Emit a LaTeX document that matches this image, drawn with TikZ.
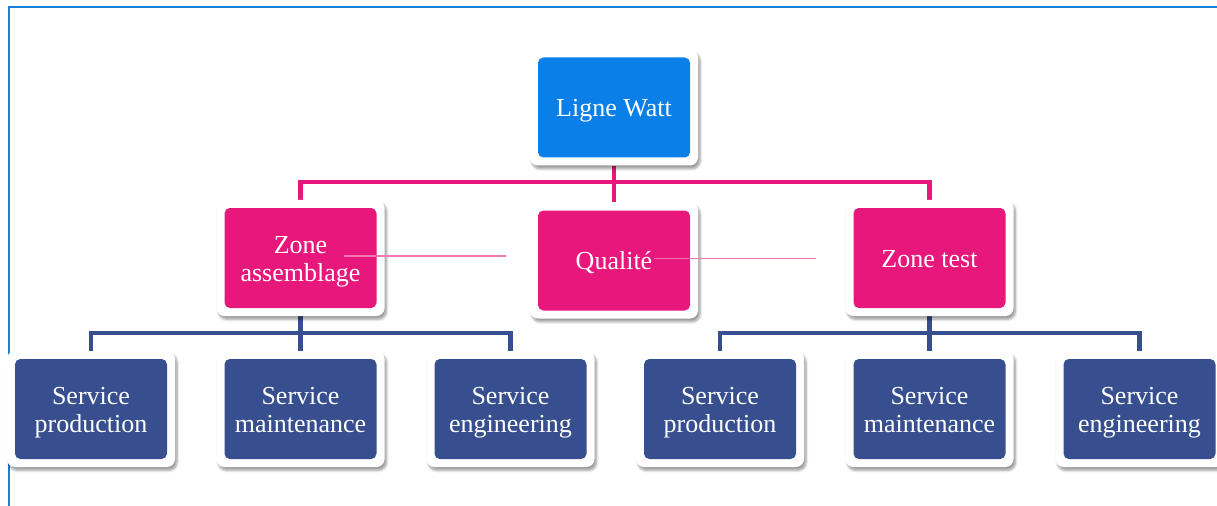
\documentclass[tikz,border=0pt]{standalone}
\usepackage{fontspec}
\setmainfont{Liberation Serif}
\usepackage{xcolor}
\usetikzlibrary{positioning,backgrounds,shadows.blur}
\definecolor{wattblue}{HTML}{0A7FE8}
\definecolor{zonepink}{HTML}{E8177B}
\definecolor{servnavy}{HTML}{374F8E}
\definecolor{framblue}{HTML}{1A7FD8}
\definecolor{thinpink}{HTML}{F277B2}

\begin{document}
\begin{tikzpicture}[x=0.75pt,y=-0.75pt,
  orgbox/.style={fill=white,rounded corners=6pt,minimum width=126pt,minimum height=87pt,
    inner sep=0pt,align=center,text=white,font=\fontsize{19.5}{21}\selectfont,
    execute at begin node=\rule{0pt}{20.5pt},execute at end node=\strut,
    blur shadow={shadow xshift=1.5pt,shadow yshift=-2.5pt,shadow blur steps=6,shadow opacity=40},
    path picture={\fill[#1,rounded corners=4pt]
      ([shift={(6pt,6pt)}]path picture bounding box.south west) rectangle
      ([shift={(-6pt,-6pt)}]path picture bounding box.north east);}},
  twoln/.style={execute at begin node=\rule{0pt}{41.7pt}},
  pinkline/.style={draw=zonepink,line width=3.6pt},
  navyline/.style={draw=servnavy,line width=3.6pt},
  faint/.style={draw=thinpink,line width=1pt}]
\useasboundingbox (0,0) rectangle (1217,506);
\draw[framblue,line width=1.2pt] (9,506) -- (9,7) -- (1217,7);
% top
\node[orgbox=wattblue] (watt) at (614,107.5) {Ligne Watt};
% zones
\node[orgbox=zonepink,twoln] (zass) at (300.5,258) {Zone\\assemblage};
\node[orgbox=zonepink] (qual) at (614,260.5) {Qualité};
\node[orgbox=zonepink] (ztest) at (929.5,258) {Zone test};
% services
\node[orgbox=servnavy,twoln] (prodA) at (91,409) {Service\\production};
\node[orgbox=servnavy,twoln] (maintA) at (300.5,409) {Service\\maintenance};
\node[orgbox=servnavy,twoln] (engA) at (510.5,409) {Service\\engineering};
\node[orgbox=servnavy,twoln] (prodB) at (720,409) {Service\\production};
\node[orgbox=servnavy,twoln] (maintB) at (929.5,409) {Service\\maintenance};
\node[orgbox=servnavy,twoln] (engB) at (1139.5,409) {Service\\engineering};
% connectors
\coordinate (pinkbar) at (614,182);
\coordinate (navybarA) at (300.5,333);
\coordinate (navybarB) at (929.5,333);
\begin{scope}[on background layer]
\draw[pinkline] (watt) -- (qual);
\draw[pinkline] (zass) |- (pinkbar) -| (ztest);
\draw[navyline] (zass) -- (maintA);
\draw[navyline] (prodA) |- (navybarA) -| (engA);
\draw[navyline] (ztest) -- (maintB);
\draw[navyline] (prodB) |- (navybarB) -| (engB);
\end{scope}
% stray thin lines
\coordinate (faintA1) at (344,256);
\coordinate (faintA2) at (506,256);
\coordinate (faintB1) at (654,258.5);
\coordinate (faintB2) at (816,258.5);
\draw[faint] (faintA1) -- (faintA2);
\draw[faint] (faintB1) -- (faintB2);
\end{tikzpicture}
\end{document}
